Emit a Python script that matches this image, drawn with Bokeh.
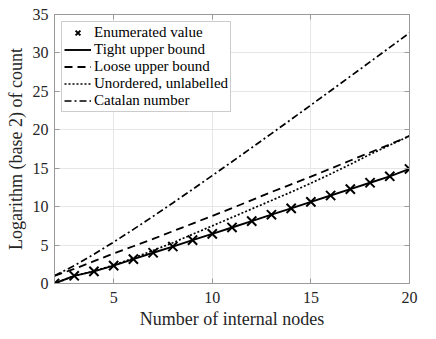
from bokeh.plotting import figure
from bokeh.models import Range1d, FixedTicker, Legend, LegendItem, LinearAxis
from bokeh.embed import file_html
from bokeh.resources import INLINE

nodes = list(range(2, 21))
enumerated = [0.0, 1.0, 1.58, 2.32, 3.17, 4.0, 4.81, 5.64, 6.46, 7.29, 8.12,
              8.95, 9.78, 10.62, 11.45, 12.28, 13.11, 13.95, 14.9]
tight = [0.0, 1.0, 1.58, 2.32, 3.17, 4.0, 4.81, 5.64, 6.46, 7.29, 8.12,
         8.95, 9.78, 10.62, 11.45, 12.28, 13.11, 13.95, 14.9]
loose = [1.0, 1.9, 2.9, 3.9, 4.85, 5.8, 6.8, 7.8, 8.8, 9.8, 10.85,
         11.9, 12.9, 13.9, 14.95, 16.0, 17.05, 18.1, 19.2]
unordered = [0.0, 1.0, 1.6, 2.4, 3.3, 4.3, 5.3, 6.4, 7.5, 8.6, 9.7,
             10.8, 11.9, 13.05, 14.25, 15.5, 16.8, 18.0, 19.2]
catalan = [1.0, 2.32, 3.81, 5.39, 7.04, 8.74, 10.48, 12.25, 14.04, 15.84,
           17.67, 19.50, 21.35, 23.21, 25.08, 26.95, 28.83, 30.72, 32.61]
x_ticks = [5, 10, 15, 20]
y_ticks = [0, 5, 10, 15, 20, 25, 30, 35]

FONT = "Liberation Serif"
AXC = "#9a9a9a"
TXT = "#262626"

p = figure(width=428, height=331, output_backend="svg", toolbar_location=None,
           x_range=Range1d(2, 20), y_range=Range1d(0, 35),
           min_border_left=54, min_border_right=19, min_border_top=14,
           min_border_bottom=45)
p.outline_line_color = AXC
p.outline_line_width = 1
p.background_fill_color = "white"
p.border_fill_color = "white"

r_cat = p.line(nodes, catalan, line_color="black", line_width=1.7, line_dash="7 3 2 3")
r_unord = p.line(nodes, unordered, line_color="black", line_width=1.7, line_dash="2 2")
r_loose = p.line(nodes, loose, line_color="black", line_width=1.8, line_dash="8 5")
r_tight = p.line(nodes, tight, line_color="black", line_width=1.9)
r_enum = p.scatter(nodes, enumerated, marker="x", size=13, line_color="black", line_width=2)

for ax in (p.xaxis[0], p.yaxis[0]):
    ax.axis_line_color = AXC
    ax.major_tick_line_color = AXC
    ax.major_tick_in = 5
    ax.major_tick_out = 0
    ax.minor_tick_line_color = None
    ax.major_label_text_font = FONT
    ax.major_label_text_font_size = "16px"
    ax.major_label_text_font_style = "normal"
    ax.major_label_text_color = TXT
    ax.axis_label_text_font = FONT
    ax.axis_label_text_font_size = "18px"
    ax.axis_label_text_font_style = "normal"
    ax.axis_label_text_color = TXT

p.xaxis.ticker = FixedTicker(ticks=x_ticks)
p.yaxis.ticker = FixedTicker(ticks=y_ticks)
p.xaxis.axis_label = "Number of internal nodes"
p.yaxis.axis_label = "Logarithm (base 2) of count"
p.xaxis.major_label_standoff = 8
p.xaxis.axis_label_standoff = 3
p.yaxis.major_label_standoff = 6
p.yaxis.axis_label_standoff = 4

# mirrored tick marks on top and right (labels blanked)
for loc, ticks in (("above", x_ticks), ("right", y_ticks)):
    mirror = LinearAxis(ticker=FixedTicker(ticks=ticks))
    mirror.axis_line_color = AXC
    mirror.major_tick_line_color = AXC
    mirror.major_tick_in = 5
    mirror.major_tick_out = 0
    mirror.minor_tick_line_color = None
    mirror.major_label_overrides = {t: "" for t in ticks}
    mirror.major_label_standoff = 0
    p.add_layout(mirror, loc)

p.xgrid.ticker = FixedTicker(ticks=x_ticks)
p.ygrid.ticker = FixedTicker(ticks=y_ticks)
p.grid.grid_line_color = "#e6e6e6"
p.grid.grid_line_width = 1

legend = Legend(items=[
    LegendItem(label="Enumerated value", renderers=[r_enum]),
    LegendItem(label="Tight upper bound", renderers=[r_tight]),
    LegendItem(label="Loose upper bound", renderers=[r_loose]),
    LegendItem(label="Unordered, unlabelled", renderers=[r_unord]),
    LegendItem(label="Catalan number", renderers=[r_cat]),
], location="top_left")
legend.margin = 7
legend.padding = 2
legend.spacing = 0
legend.label_height = 17
legend.glyph_height = 17
legend.glyph_width = 27
legend.label_standoff = 3
legend.label_text_font = FONT
legend.label_text_font_size = "15px"
legend.label_text_font_style = "normal"
legend.label_text_color = "black"
legend.border_line_color = AXC
legend.border_line_width = 1
legend.background_fill_color = "white"
legend.background_fill_alpha = 1
p.add_layout(legend)

open("out.html", "w").write(file_html(p, INLINE))
